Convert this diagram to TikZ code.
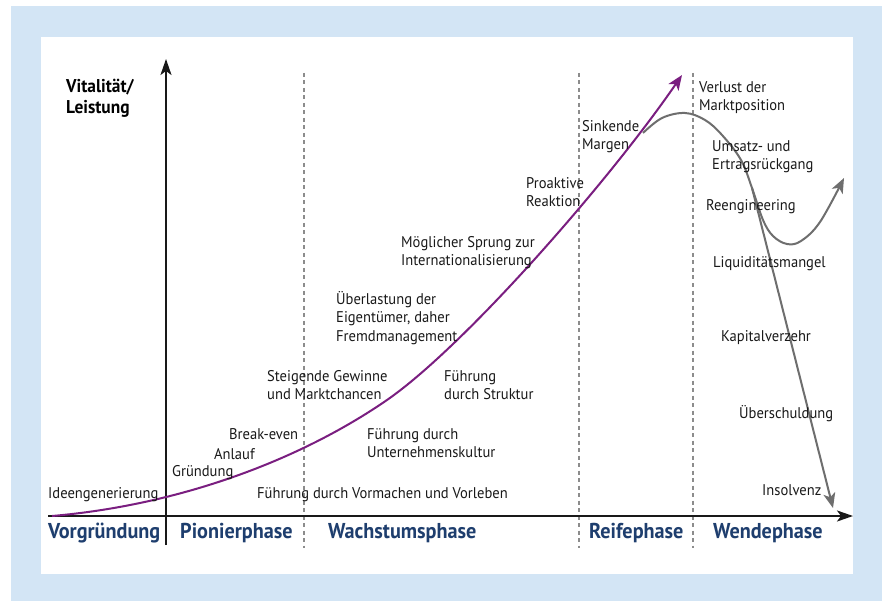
\documentclass[tikz,border=0pt]{standalone}
\usepackage{fontspec}
\setmainfont{PT Sans}[FakeStretch=0.94]
\usetikzlibrary{arrows.meta}

\definecolor{frameblue}{RGB}{211,229,245}
\definecolor{phaseblue}{RGB}{30,62,110}
\definecolor{lifepurple}{RGB}{122,30,128}
\definecolor{declinegray}{RGB}{110,110,110}
\definecolor{divgray}{RGB}{140,140,140}

\newcommand{\lblfont}{\fontsize{15.5}{18.5}\selectfont}
\newcommand{\phasefont}{\fontsize{21.5}{24}\selectfont\bfseries}

\tikzset{
  lbl/.style={anchor=north west, inner sep=0pt, align=left, font=\lblfont, text=black!90},
  phaselbl/.style={anchor=west, inner sep=0pt, font=\phasefont, text=phaseblue},
  axisline/.style={line width=2pt, black!90, -{Stealth[length=16pt,width=11pt,inset=4pt]}},
  divider/.style={divgray, line width=1.5pt, dash pattern=on 4pt off 3.5pt},
  lifecurve/.style={lifepurple, line width=2pt, -{Stealth[length=15pt,width=12pt,inset=4pt]}},
  declinecurve/.style={declinegray, line width=2pt, -{Stealth[length=15pt,width=12pt,inset=4pt]}}
}

\begin{document}
\begin{tikzpicture}[x=1pt,y=-1pt]
  \useasboundingbox (0,0) rectangle (882,601);
  % frame and panel
  \fill[frameblue] (11,6) rectangle (882,601);
  \fill[white] (41,37) rectangle (853,574);

  % phase dividers
  \draw[divider] (304,73) -- (304,548);
  \draw[divider] (579,73) -- (579,548);
  \draw[divider] (693,73) -- (693,548);

  % axes
  \coordinate (ybot) at (166,545);
  \coordinate (ytop) at (166,59);
  \coordinate (xleft) at (48,516);
  \coordinate (xright) at (853,516);
  \draw[axisline] (ybot) -- (ytop);
  \draw[axisline] (xleft) -- (xright);

  \node[anchor=north west, inner sep=0pt, align=left, font=\fontsize{18.5}{21}\selectfont\bfseries] (ylabel) at (66,79) {Vitalität/\\Leistung};

  % phase names
  \node[phaselbl] (p1) at (48,533) {Vorgründung};
  \node[phaselbl] (p2) at (180,533) {Pionierphase};
  \node[phaselbl] (p3) at (328,533) {Wachstumsphase};
  \node[phaselbl] (p4) at (589,533) {Reifephase};
  \node[phaselbl] (p5) at (713,533) {Wendephase};

  % growth curve
  \coordinate (gstart) at (52,516);
  \coordinate (gmid) at (387,400);
  \coordinate (gend) at (682,75);
  \draw[lifecurve] (gstart) .. controls (180,505) and (300,460) .. (gmid)
                            .. controls (465,346) and (610,180) .. (gend);

  % decline and turnaround curves
  \coordinate (dstart) at (643,133);
  \coordinate (split) at (752,188);
  \coordinate (turnend) at (844,178);
  \coordinate (insolv) at (833,508);
  \draw[declinecurve] plot[smooth, tension=0.6] coordinates {
    (dstart) (662,118) (685,113) (705,120) (722,135) (741,160) (752,188) (763,220) (773,236) (787,244) (801,241) (820,222) (turnend)};
  \draw[declinecurve] (split) -- (insolv);

  % labels
  \node[lbl] (l1) at (48,485) {\strut Ideengenerierung};
  \node[lbl] (l2) at (172,463) {\strut Gründung};
  \node[lbl] (l3) at (214,446) {\strut Anlauf};
  \node[lbl] (l4) at (229,426) {\strut Break-even};
  \node[lbl] (l5) at (267,368) {\strut Steigende Gewinne\\und Marktchancen};
  \node[lbl] (l6) at (336,291) {\strut Überlastung der\\Eigentümer, daher\\Fremdmanagement};
  \node[lbl] (l7) at (444,368) {\strut Führung\\durch Struktur};
  \node[lbl] (l8) at (367,426) {\strut Führung durch\\Unternehmenskultur};
  \node[lbl] (l9) at (257,485) {\strut Führung durch Vormachen und Vorleben};
  \node[lbl] (l10) at (401,234) {\strut Möglicher Sprung zur\\Internationalisierung};
  \node[lbl] (l11) at (526,175) {\strut Proaktive\\Reaktion};
  \node[lbl] (l12) at (582,118) {\strut Sinkende\\Margen};
  \node[lbl] (l13) at (699,79) {\strut Verlust der\\Marktposition};
  \node[lbl] (l14) at (712,138) {\strut Umsatz- und\\Ertragsrückgang};
  \node[lbl] (l15) at (706,197) {\strut Reengineering};
  \node[lbl] (l16) at (713,254) {\strut Liquiditätsmangel};
  \node[lbl] (l17) at (721,328) {\strut Kapitalverzehr};
  \node[lbl] (l18) at (739,405) {\strut Überschuldung};
  \node[lbl] (l19) at (762,482) {\strut Insolvenz};
\end{tikzpicture}
\end{document}
